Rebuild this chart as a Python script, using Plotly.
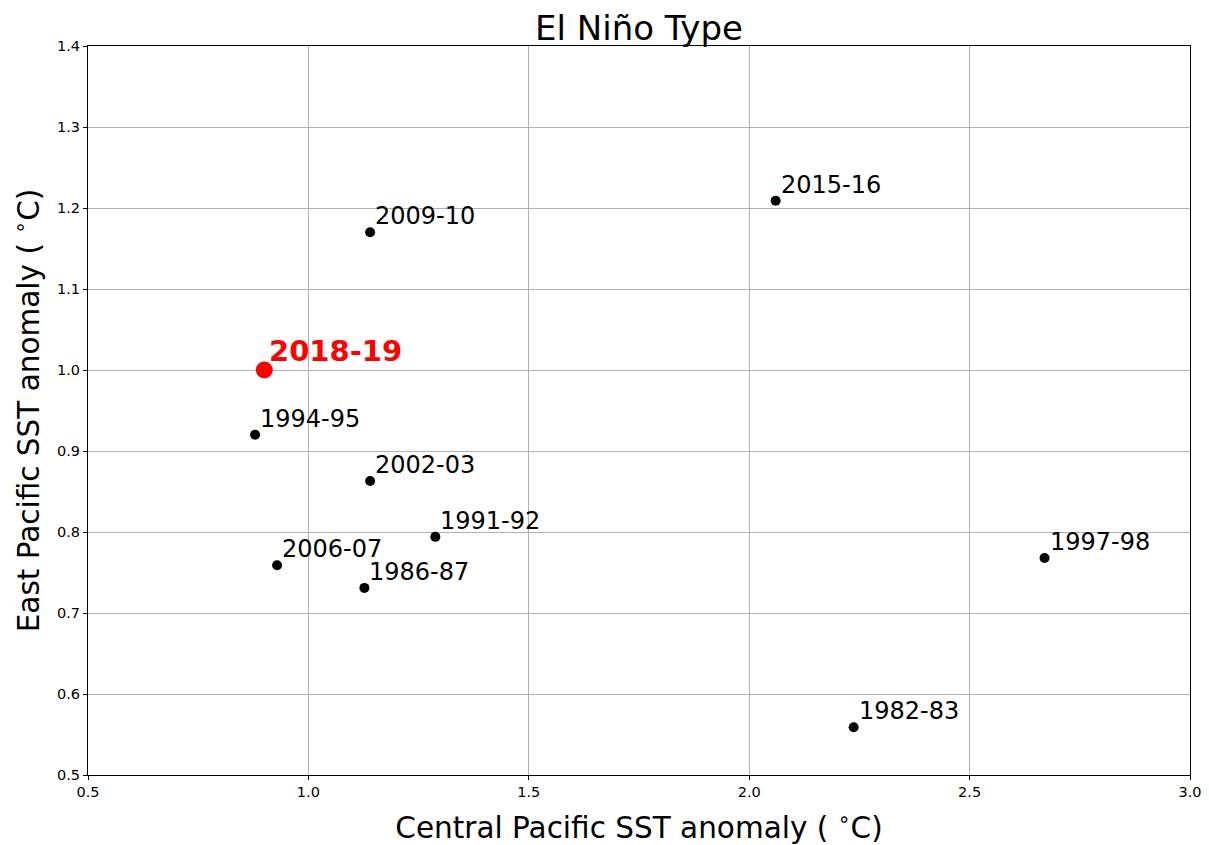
import plotly.graph_objects as go

labels = ["1982-83", "1986-87", "1991-92", "1994-95", "1997-98", "2002-03", "2006-07", "2009-10", "2015-16"]
central = [2.237, 1.127, 1.288, 0.879, 2.67, 1.14, 0.929, 1.14, 2.06]
east = [0.559, 0.731, 0.794, 0.92, 0.768, 0.863, 0.759, 1.17, 1.209]

hl_label = "2018-19"
hl_central = [0.90]
hl_east = [1.0]

FONT = "DejaVu Sans"

fig = go.Figure()
fig.add_trace(go.Scatter(x=central, y=east, mode="markers",
                         marker=dict(color="black", size=10), showlegend=False))
fig.add_trace(go.Scatter(x=hl_central, y=hl_east, mode="markers",
                         marker=dict(color="red", size=17), showlegend=False))

for lab, xv, yv in zip(labels, central, east):
    fig.add_annotation(x=xv, y=yv, text=lab, showarrow=False, xanchor="left", yanchor="bottom",
                       xshift=3, yshift=0, font=dict(family=FONT, size=24, color="black"))
fig.add_annotation(x=hl_central[0], y=hl_east[0], text="<b>" + hl_label + "</b>", showarrow=False,
                   xanchor="left", yanchor="bottom", xshift=3, yshift=0,
                   font=dict(family=FONT, size=29, color="red"))

axis_common = dict(showgrid=True, gridcolor="#b0b0b0", gridwidth=1, showline=True, linecolor="black",
                   linewidth=1, mirror=True, ticks="outside", ticklen=4, tickcolor="black",
                   tickfont=dict(family=FONT, size=14.5, color="black"), zeroline=False,
                   automargin=False)

fig.update_layout(
    width=1201, height=837,
    paper_bgcolor="white", plot_bgcolor="white",
    margin=dict(l=80, r=19, t=38, b=70),
    title=dict(text="El Niño Type", x=0.5, xref="paper", xanchor="center", y=0.976, yanchor="middle",
               font=dict(family=FONT, size=34, color="black")),
    xaxis=dict(range=[0.5, 3.0], tickvals=[0.5, 1.0, 1.5, 2.0, 2.5, 3.0],
               ticktext=["0.5", "1.0", "1.5", "2.0", "2.5", "3.0"],
               title=dict(text="Central Pacific SST anomaly ( <sup>∘</sup>C)",
                          font=dict(family=FONT, size=29.5, color="black"), standoff=18),
               **axis_common),
    yaxis=dict(range=[0.5, 1.4], tickvals=[0.5, 0.6, 0.7, 0.8, 0.9, 1.0, 1.1, 1.2, 1.3, 1.4],
               ticktext=["0.5", "0.6", "0.7", "0.8", "0.9", "1.0", "1.1", "1.2", "1.3", "1.4"],
               title=dict(text="East Pacific SST anomaly ( <sup>∘</sup>C)",
                          font=dict(family=FONT, size=29.5, color="black"), standoff=15),
               **axis_common),
)

fig.write_html("out.html")
